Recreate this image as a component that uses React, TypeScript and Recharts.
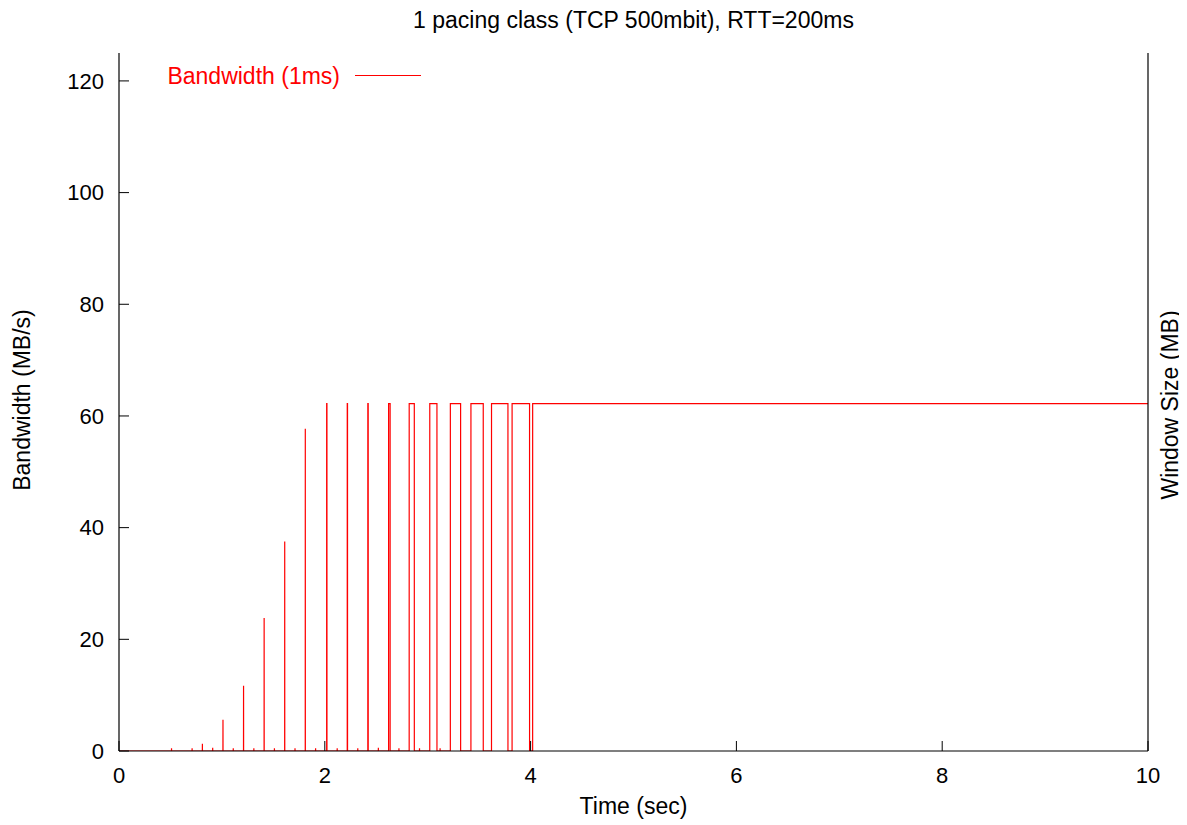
import React from "react";
import { LineChart, Line, XAxis, YAxis } from "recharts";

// Short spikes (time in sec, bandwidth in MB/s)
const spikeTimes = [0.51, 0.71, 0.81, 0.91, 1.01, 1.11, 1.21, 1.31, 1.41, 1.51, 1.61, 1.71, 1.81, 1.91, 2.12, 2.32, 2.52, 2.72, 2.92, 3.12];
const spikeHeights = [0.5, 0.5, 1.3, 0.6, 5.6, 0.5, 11.7, 0.5, 23.8, 0.5, 37.5, 0.5, 57.7, 0.5, 0.5, 0.5, 0.6, 0.5, 0.5, 0.5];

// Full-rate pulses (start, end in sec)
const pulseStarts = [2.018, 2.218, 2.418, 2.62, 2.82, 3.02, 3.22, 3.42, 3.62, 3.82];
const pulseEnds = [2.021, 2.221, 2.422, 2.635, 2.87, 3.09, 3.32, 3.54, 3.78, 3.99];
const pulseLevel = 62.2;

// Steady state after slow start
const steadyTimes = [4.02, 5, 6, 7, 8, 9, 10];
const steadyValues = [62.2, 62.2, 62.2, 62.2, 62.2, 62.2, 62.2];

const xTicks = [0, 2, 4, 6, 8, 10];
const yTicks = [0, 20, 40, 60, 80, 100, 120];

type Seg = { t: number; v: number };
const events: { t: number; pts: Seg[] }[] = [];
spikeTimes.forEach((t, i) => {
  events.push({
    t,
    pts: [
      { t, v: 0 },
      { t: t + 0.0005, v: spikeHeights[i] },
      { t: t + 0.001, v: 0 },
    ],
  });
});
pulseStarts.forEach((s, i) => {
  events.push({
    t: s,
    pts: [
      { t: s, v: 0 },
      { t: s + 0.0002, v: pulseLevel },
      { t: pulseEnds[i] - 0.0002, v: pulseLevel },
      { t: pulseEnds[i], v: 0 },
    ],
  });
});
events.sort((a, b) => a.t - b.t);
const data: Seg[] = [{ t: 0, v: 0 }];
events.forEach((e) => data.push(...e.pts));
data.push({ t: steadyTimes[0] - 0.0002, v: 0 });
steadyTimes.forEach((t, i) => data.push({ t, v: steadyValues[i] }));

const FONT = "'Liberation Sans', Arial, Helvetica, sans-serif";
const W = 1179;
const H = 817;
const LABEL_FS = 23;
const TICK_FS = 22;

export default function App() {
  return (
    <div style={{ position: "relative", width: W, height: H, fontFamily: FONT }}>
      <LineChart
        width={W}
        height={H}
        data={data}
        margin={{ top: 45, right: 9, bottom: 14, left: 31 }}
      >
        <XAxis
          dataKey="t"
          type="number"
          domain={[0, 10]}
          ticks={xTicks}
          allowDataOverflow
          height={60}
          stroke="#000"
          tickSize={-10}
          tickMargin={26}
          tick={{ fill: "#000", fontSize: TICK_FS, fontFamily: FONT }}
          tickLine={{ stroke: "#000" }}
          axisLine={{ stroke: "#000", strokeWidth: 1.2 }}
        />
        <XAxis
          xAxisId="top"
          dataKey="t"
          type="number"
          orientation="top"
          domain={[0, 10]}
          ticks={xTicks}
          height={0}
          tickSize={-10}
          tickFormatter={() => ""}
          tickLine={{ stroke: "#000" }}
          axisLine={{ stroke: "#000", strokeWidth: 1.2 }}
        />
        <YAxis
          type="number"
          domain={[0, 125]}
          ticks={yTicks}
          allowDataOverflow
          width={80}
          tickSize={-10}
          tickMargin={25}
          tick={{ fill: "#000", fontSize: TICK_FS, fontFamily: FONT }}
          tickLine={{ stroke: "#000" }}
          axisLine={{ stroke: "#000", strokeWidth: 1.2 }}
        />
        <YAxis
          yAxisId="right"
          orientation="right"
          type="number"
          domain={[0, 1]}
          width={30}
          tick={false}
          tickLine={false}
          axisLine={{ stroke: "#000", strokeWidth: 1.2 }}
        />
        <Line
          type="linear"
          dataKey="v"
          stroke="#ff0000"
          strokeWidth={1.2}
          dot={false}
          activeDot={false}
          isAnimationActive={false}
        />
      </LineChart>

      <div
        style={{
          position: "absolute",
          left: 111,
          width: 1029,
          top: -1,
          lineHeight: "26px",
          textAlign: "center",
          fontSize: LABEL_FS,
          color: "#000",
        }}
      >
        1 pacing class (TCP 500mbit), RTT=200ms
      </div>

      <div
        style={{
          position: "absolute",
          left: 111,
          width: 1029,
          top: 785,
          lineHeight: "26px",
          textAlign: "center",
          fontSize: LABEL_FS,
          color: "#000",
        }}
      >
        Time (sec)
      </div>

      <div
        style={{
          position: "absolute",
          left: 14 - 150,
          top: 392 - 13,
          width: 300,
          lineHeight: "26px",
          textAlign: "center",
          fontSize: LABEL_FS,
          color: "#000",
          transform: "rotate(-90deg)",
        }}
      >
        Bandwidth (MB/s)
      </div>

      <div
        style={{
          position: "absolute",
          left: 1162 - 150,
          top: 397 - 13,
          width: 300,
          lineHeight: "26px",
          textAlign: "center",
          fontSize: LABEL_FS,
          color: "#000",
          transform: "rotate(-90deg)",
        }}
      >
        Window Size (MB)
      </div>

      <div
        style={{
          position: "absolute",
          left: 32,
          width: 300,
          top: 55,
          lineHeight: "26px",
          textAlign: "right",
          fontSize: LABEL_FS,
          color: "#ff0000",
        }}
      >
        Bandwidth (1ms)
      </div>
      <div
        style={{
          position: "absolute",
          left: 347,
          top: 67,
          width: 66,
          height: 0,
          borderTop: "1px solid #ff0000",
        }}
      />
    </div>
  );
}
